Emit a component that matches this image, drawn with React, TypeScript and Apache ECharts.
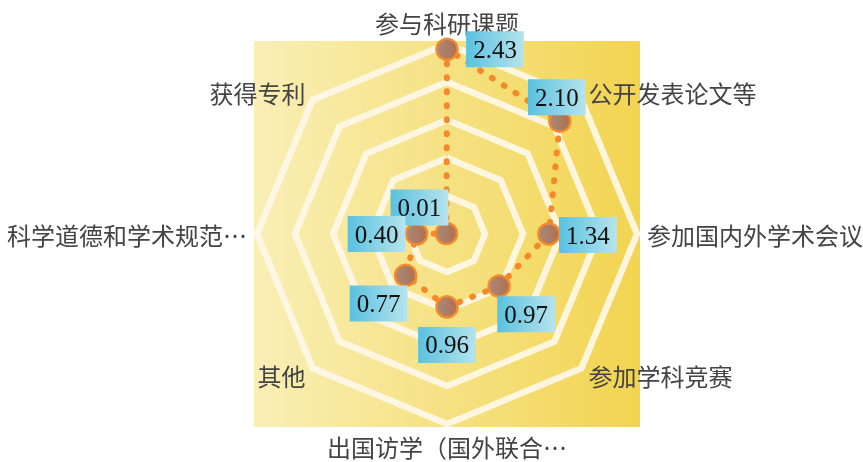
import React, { useEffect, useRef } from 'react';
import * as echarts from 'echarts';

// Indicators in clockwise reading order, starting from the top
const indicatorNames = [
  '参与科研课题',
  '公开发表论文等',
  '参加国内外学术会议',
  '参加学科竞赛',
  '出国访学（国外联合…',
  '其他',
  '科学道德和学术规范…',
  '获得专利',
];
const values = [2.43, 2.1, 1.34, 0.97, 0.96, 0.77, 0.4, 0.01];
const axisMax = 2.5;
const splitCount = 5;

// label offsets (dx, dy) from each point, same order as values
const labelOffsets: [number, number][] = [
  [48, 0],
  [-3, -24],
  [39, 1],
  [27, 28],
  [0, 38],
  [-27, 28],
  [-40, 0],
  [-27, -26],
];

const CX = 447;
const CY = 234;
const R = 190;

export default function App() {
  const ref = useRef<HTMLDivElement>(null);

  useEffect(() => {
    if (!ref.current) return;
    const chart = echarts.init(ref.current, undefined, { renderer: 'svg' });

    // ECharts places radar indicators counter-clockwise; reorder so they read clockwise
    const order = [0, ...indicatorNames.map((_, i) => i).slice(1).reverse()];
    const indicator = order.map((i) => ({ name: indicatorNames[i], max: axisMax, min: 0 }));
    const data = order.map((i) => values[i]);
    const texts = values.map((v) => v.toFixed(2));

    chart.setOption({
      animation: false,
      graphic: [
        {
          type: 'rect',
          z: -100,
          silent: true,
          shape: { x: CX - R - 3, y: CY - R - 3, width: 2 * R + 6, height: 2 * R + 6 },
          style: {
            fill: new echarts.graphic.LinearGradient(0, 0, 1, 0, [
              { offset: 0, color: '#f9efb6' },
              { offset: 1, color: '#f2d450' },
            ]),
          },
        },
      ],
      radar: {
        center: [CX, CY],
        radius: R,
        shape: 'polygon',
        splitNumber: splitCount,
        nameGap: 10,
        indicator,
        axisName: {
          color: '#444',
          fontSize: 24,
          fontFamily: 'Noto Sans CJK SC',
        },
        axisLine: { show: false },
        axisTick: { show: false },
        axisLabel: { show: false },
        splitArea: { show: false },
        splitLine: {
          lineStyle: { color: 'rgba(255,247,232,0.92)', width: 6.5 },
        },
      },
      series: [
        {
          type: 'radar',
          symbol: 'circle',
          symbolSize: 21,
          lineStyle: {
            color: '#f5892a',
            width: 6,
            type: [1, 13],
            cap: 'round',
          },
          itemStyle: {
            color: new echarts.graphic.LinearGradient(0, 0, 1, 0, [
              { offset: 0, color: '#a88a7a' },
              { offset: 1, color: '#b06f4e' },
            ]),
            borderColor: '#f28a2e',
            borderWidth: 2.5,
          },
          label: {
            show: true,
            position: 'inside',
            formatter: (p: any) => Number(p.value).toFixed(2),
            color: '#111',
            fontSize: 25,
            fontFamily: 'Liberation Serif',
            lineHeight: 24,
            padding: [6, 7, 6, 7],
            backgroundColor: new echarts.graphic.LinearGradient(0, 0, 1, 0, [
              { offset: 0, color: '#5ac1e0' },
              { offset: 1, color: '#b6e3ed' },
            ]),
          },
          labelLayout: (params: any) => {
            const idx = texts.indexOf(params.text);
            const off = idx >= 0 ? labelOffsets[idx] : [0, -30];
            const r = params.rect;
            return {
              x: r.x + r.width / 2 + off[0],
              y: r.y + r.height / 2 + off[1],
              align: 'center',
              verticalAlign: 'middle',
            };
          },
          data: [{ value: data, name: '均值' }],
        },
      ],
    });

    return () => chart.dispose();
  }, []);

  return (
    <div
      ref={ref}
      style={{ position: 'fixed', left: 0, top: 0, width: 863, height: 462 }}
    />
  );
}
